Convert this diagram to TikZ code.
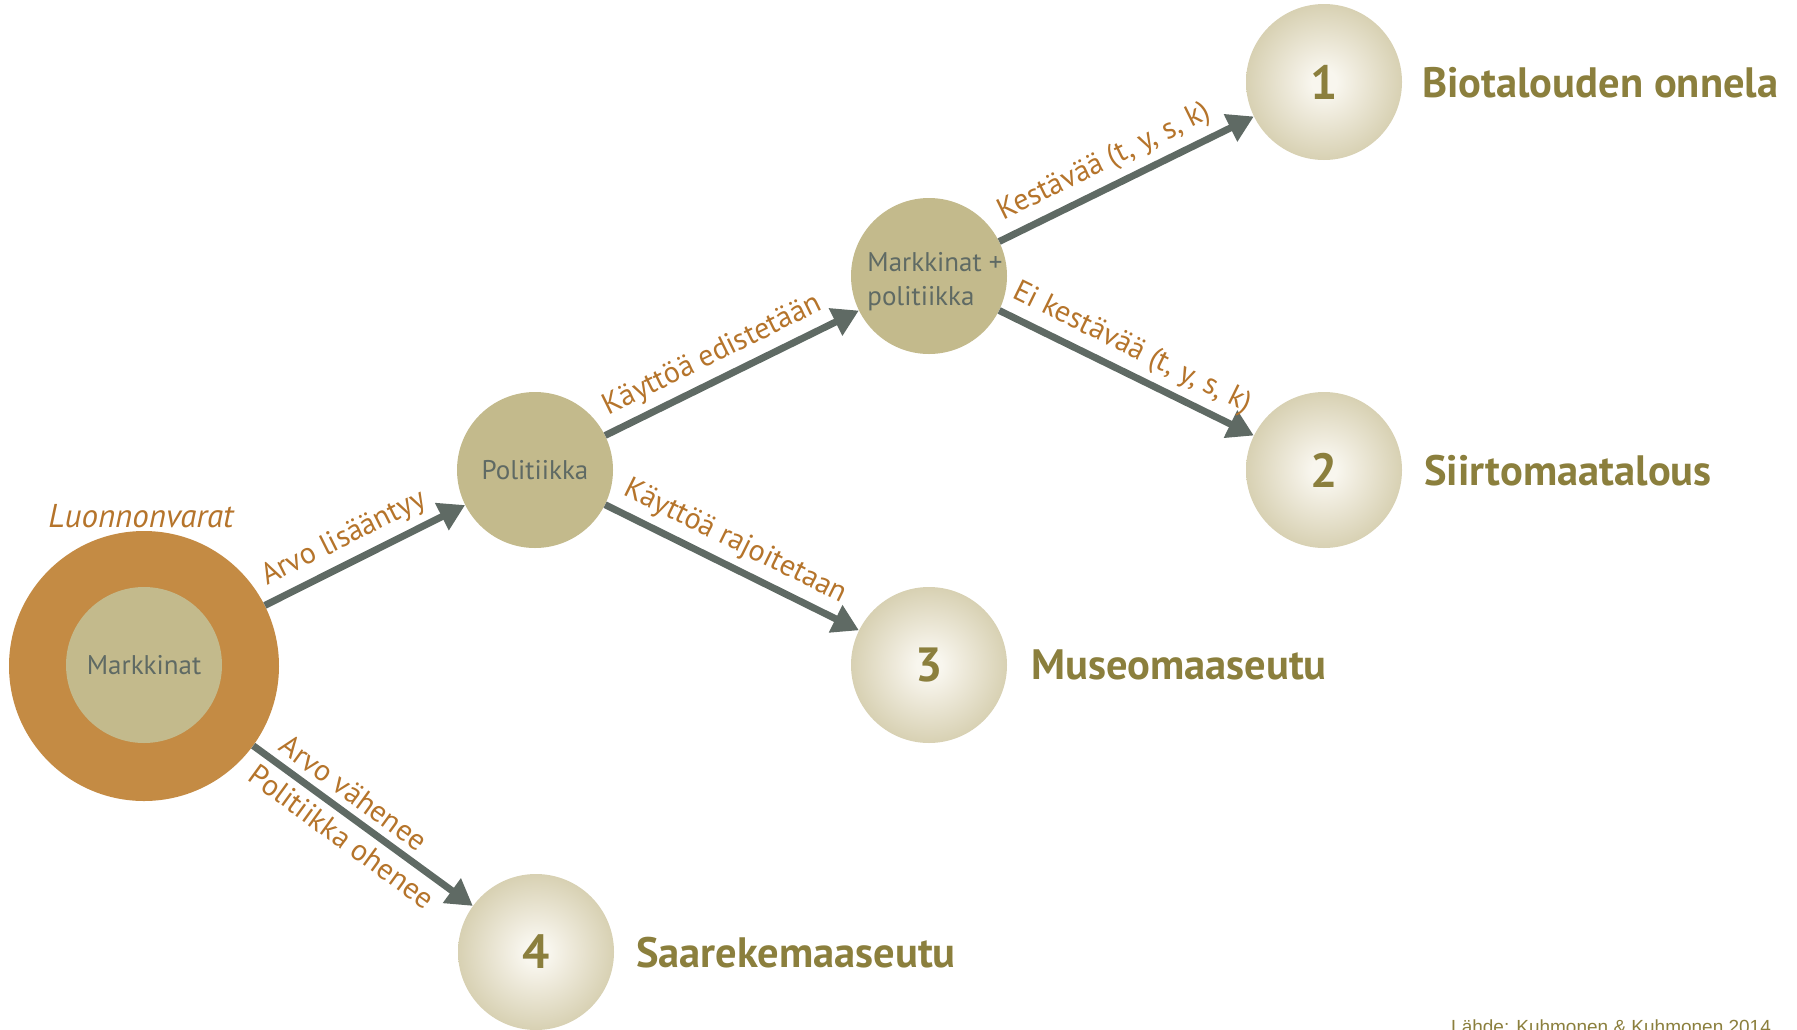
\documentclass[tikz,border=0pt]{standalone}
\usepackage{fontspec}
\setmainfont{PT Sans}
\newfontfamily\srcfont{Liberation Sans}
\usetikzlibrary{arrows.meta}
\definecolor{ring}{HTML}{C48B44}
\definecolor{beige}{HTML}{C3BA8C}
\definecolor{grayt}{HTML}{5F6A64}
\definecolor{labc}{HTML}{B5742B}
\definecolor{olive}{HTML}{8B7F3D}
\definecolor{cwhite}{HTML}{F8F6EE}
\definecolor{cin}{HTML}{EFEBDD}
\definecolor{cmid}{HTML}{D6CFB0}
\definecolor{cout}{HTML}{C6BD92}
\definecolor{cedge}{HTML}{BFB687}
\pgfdeclareradialshading{resball}{\pgfpoint{0bp}{0bp}}{color(0bp)=(cwhite); color(4bp)=(cwhite); color(10bp)=(cin); color(26bp)=(cmid); color(38bp)=(cout); color(50bp)=(cedge)}
\tikzset{
  midtext/.style={text=grayt, font=\fontsize{27}{34}\selectfont},
  plainball/.style={circle, fill=beige, minimum size=156pt, inner sep=0pt},
  resball/.style={circle, shading=resball, minimum size=156pt, inner sep=0pt, text=olive, font=\bfseries\fontsize{48}{50}\selectfont},
  restitle/.style={anchor=base west, text=olive, font=\bfseries\fontsize{42.5}{46}\selectfont, inner sep=0pt},
  arr/.style={draw=grayt, line width=7pt, -{Triangle[length=26pt,width=29pt]}},
  lab/.style={text=labc, font=\fontsize{30}{33}\selectfont, sloped, inner sep=7pt}
}
\begin{document}
\begin{tikzpicture}[x=1pt,y=-1pt]
\useasboundingbox (0,0) rectangle (1797,1029);
% main circle
\node[circle, fill=ring, minimum size=270pt, inner sep=0pt] (main) at (144,666) {};
\node[plainball, midtext] (mark) at (144,665) {Markkinat};
\node[anchor=base, text=labc, font=\itshape\fontsize{33}{36}\selectfont, inner sep=0pt] (luon) at (141,527) {Luonnonvarat};
% intermediate circles
\node[plainball, midtext] (pol) at (535,470) {Politiikka};
\node[plainball] (mp) at (929,276) {};
\node[midtext, align=left, inner sep=0pt] (mptext) at (935,282) {Markkinat +\\politiikka};
% result circles
\node[resball] (r1) at (1324,82) {1};
\node[resball] (r2) at (1324,470) {2};
\node[resball] (r3) at (929,665) {3};
\node[resball] (r4) at (536,952) {4};
\node[restitle] (t1) at (1422,97) {Biotalouden onnela};
\node[restitle] (t2) at (1424,485) {Siirtomaatalous};
\node[restitle] (t3) at (1031,679) {Museomaaseutu};
\node[restitle] (t4) at (636,967) {Saarekemaaseutu};
% arrows
\draw[arr] (main) -- node[lab, above, pos=0.45] {Arvo lisääntyy} (pol);
\draw[arr] (pol) -- node[lab, above, pos=0.465] {Käyttöä edistetään} (mp);
\draw[arr] (pol) -- node[lab, above, pos=0.47] {Käyttöä rajoitetaan} (r3);
\draw[arr] (mp) -- node[lab, above, pos=0.456] {Kestävää (t, y, s, k)} (r1);
\draw[arr] (mp) -- node[lab, above, pos=0.48] {Ei kestävää (t, y, s, k)} (r2);
\draw[arr] (main) -- node[lab, above, pos=0.40] {Arvo vähenee} node[lab, below, pos=0.46] {Politiikka ohenee} (r4);
% source
\node[anchor=base west, text=olive, font=\srcfont\fontsize{19}{22}\selectfont, inner sep=0pt] (src) at (1451,1033) {Lähde: Kuhmonen \& Kuhmonen 2014};
\end{tikzpicture}
\end{document}
